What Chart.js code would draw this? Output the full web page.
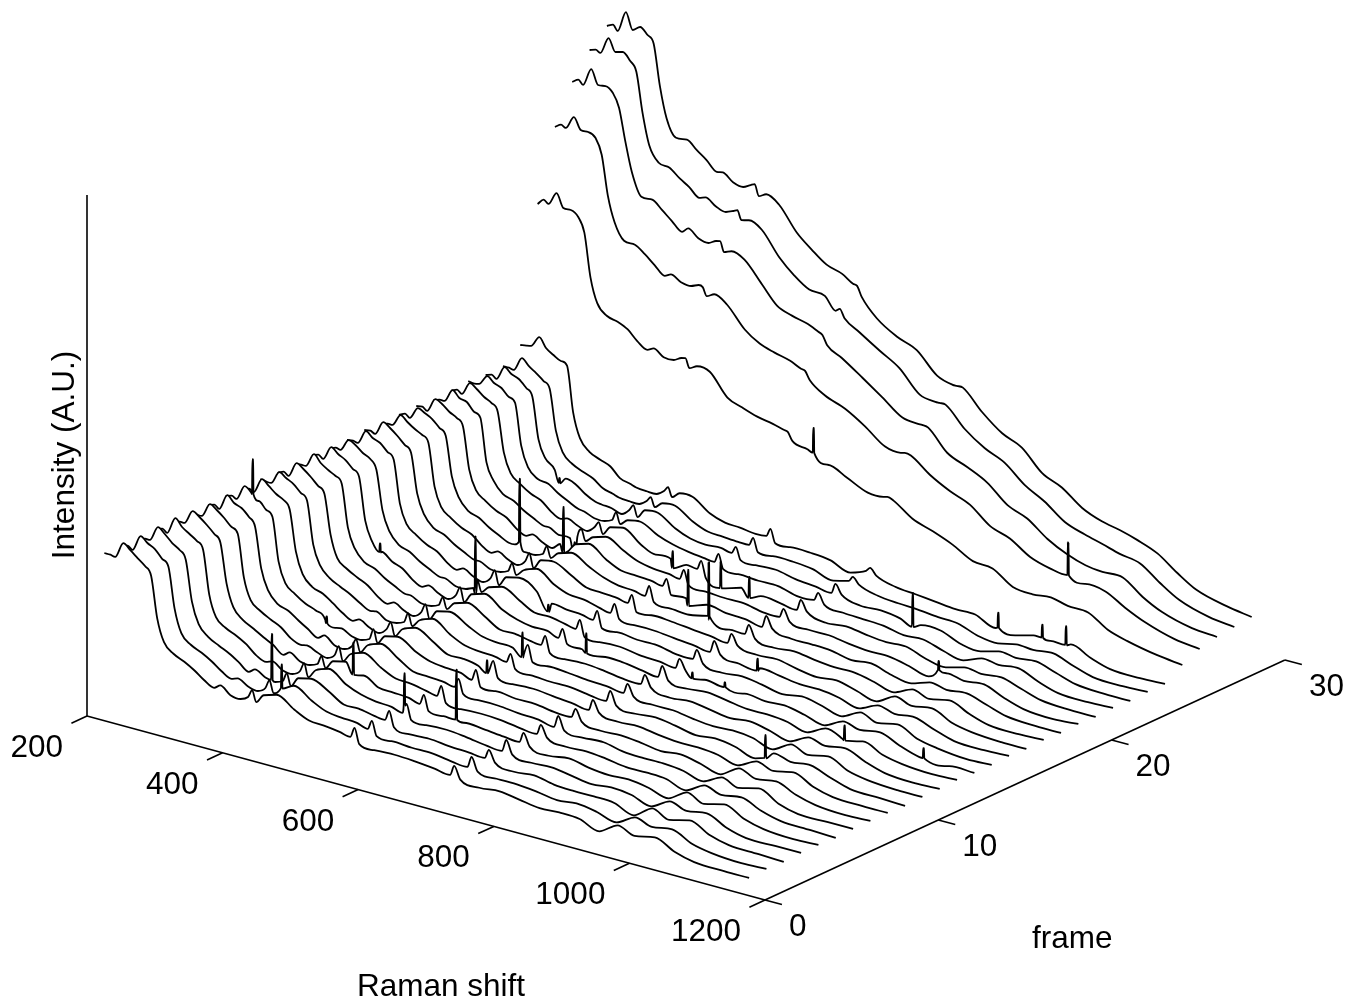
<!DOCTYPE html>
<html>
<head>
<meta charset="utf-8">
<title>Raman waterfall</title>
<style>
  html, body { margin: 0; background: #fff; }
  canvas { display: block; }
</style>
<script src="https://cdn.jsdelivr.net/npm/chart.js@4"></script>
</head>
<body>
<canvas id="myChart" width="1366" height="1007"></canvas>
<script>
const ramanShift = [200,209,216,228,238,249,260,269,278,288,302,318,333,347,362,371,386,401,412,418,424,435,454,480,502,524,547,563,569,576,598,628,657,687,710,716,725,753,783,812,842,871,901,930,957,982,1012,1041,1070,1114,1151];

// intensity, front to back
const frame1 = [155,155,154,170,165,159,153,145,104,82,73,68,62,55,50,54,47,46,50,58,47,56,60,50,43,42,40,38,48,33,31,32,31,29,27,37,25,22,24,21,18,19,18,11,22,16,20,11,6,5,5];
const frame2 = [154,156,153,169,164,160,152,146,106,83,74,69,63,56,51,53,48,46,51,60,48,56,61,51,44,42,41,38,47,33,32,31,31,28,27,38,25,23,23,21,18,20,17,12,22,17,20,11,7,5,6];
const frame3 = [153,155,155,170,165,158,153,145,105,84,74,68,63,57,50,54,49,47,50,59,47,57,60,52,43,43,40,39,49,34,31,32,30,29,28,37,26,22,24,20,19,19,18,11,23,16,21,12,7,6,5];
const frame4 = [155,157,154,171,164,159,154,147,104,83,75,70,64,56,52,54,48,47,52,61,48,57,62,51,45,42,41,38,48,33,32,33,31,28,27,39,26,23,24,21,18,20,18,12,22,17,20,11,6,6,6];
const frame5 = [154,156,156,170,166,160,153,146,107,85,75,69,63,58,51,55,49,48,51,60,49,58,61,52,44,43,42,39,49,34,33,32,31,29,28,38,26,22,25,21,19,20,17,12,23,16,21,12,7,5,6];
const frame6 = [156,155,155,169,165,159,152,147,105,84,76,70,65,57,53,54,50,47,52,62,48,57,62,52,45,44,41,39,50,34,32,33,32,29,28,38,27,23,24,22,19,19,18,12,22,17,20,12,7,6,5];
const frame7 = [155,157,154,170,164,161,154,146,106,86,75,71,64,58,52,56,49,48,53,61,49,58,63,53,44,43,42,40,49,35,33,33,31,30,27,39,26,24,25,21,20,20,18,13,22,16,21,11,6,6,6];
const frame8 = [156,158,156,171,166,160,153,148,105,85,77,70,66,59,54,55,50,49,52,63,50,59,62,52,46,44,43,39,50,34,34,32,32,29,29,38,27,23,24,22,19,21,17,12,23,17,20,12,7,5,6];
const frame9 = [154,157,155,170,165,159,155,147,107,86,76,72,65,58,53,56,51,48,54,62,49,58,63,54,45,45,42,40,51,35,33,34,32,30,28,39,28,24,25,22,20,20,18,13,22,17,21,12,7,6,6];
const frame10 = [157,156,156,169,165,161,154,148,106,87,77,71,66,60,55,56,50,50,53,63,51,59,64,53,46,44,43,41,50,36,34,33,33,30,29,40,27,24,26,23,19,21,18,12,22,18,20,13,7,6,5];
const frame11 = [155,158,155,170,166,160,153,147,108,86,78,72,67,59,54,57,52,49,55,64,50,60,63,54,47,45,44,40,51,35,35,34,32,31,29,39,28,25,25,22,20,21,19,13,23,17,21,12,8,6,6];
const frame12 = [156,157,157,171,164,159,155,149,107,88,77,73,66,61,56,56,51,51,54,63,52,60,64,55,46,46,43,42,52,36,34,35,33,30,30,40,29,24,26,23,20,22,18,13,22,18,21,13,7,5,6];
const frame13 = [157,159,156,170,165,161,154,148,106,87,79,72,68,60,55,58,53,50,56,65,51,61,65,54,48,45,45,41,51,37,36,34,34,31,29,41,28,25,27,24,21,21,19,14,23,17,20,12,8,6,7];
const frame14 = [155,158,157,169,166,160,156,147,108,89,78,74,67,62,57,57,52,52,55,64,53,60,64,55,47,47,44,42,52,36,35,36,33,32,30,40,30,26,26,23,21,22,18,13,22,18,21,13,7,6,6];
const frame15 = [156,157,156,170,165,162,155,149,107,88,80,73,69,61,56,59,54,51,57,66,52,62,65,56,48,46,45,43,53,37,37,35,35,31,31,41,29,25,27,24,20,23,19,14,23,17,21,12,8,5,6];
const frame16 = [158,159,157,171,167,161,154,148,109,90,79,75,68,63,58,58,53,53,56,65,54,61,66,55,49,48,44,42,52,38,36,36,34,32,30,42,30,26,27,25,22,22,19,14,22,18,20,13,7,6,7];
const frame17 = [156,158,158,170,165,160,156,150,108,89,81,74,70,62,57,60,55,52,58,67,53,63,65,56,48,47,46,44,53,37,38,37,35,33,31,41,31,27,28,24,21,23,18,13,23,18,21,12,8,6,6];
const frame18 = [157,160,157,169,166,162,155,149,110,91,80,76,69,64,59,59,54,54,57,66,55,62,66,57,50,46,45,43,54,39,37,36,36,32,32,42,30,26,28,25,23,23,19,14,22,17,21,13,7,6,7];
const frame19 = [158,159,156,170,167,161,157,150,109,90,82,75,71,63,58,61,56,53,59,68,54,63,67,56,49,48,47,45,53,38,39,38,35,34,31,43,32,27,27,26,22,24,18,15,21,18,20,14,8,6,6];
const frame20 = [156,158,158,171,165,163,155,151,108,92,81,77,70,65,60,60,55,55,58,67,56,62,66,57,50,47,46,44,54,40,38,37,37,33,33,42,31,28,28,25,23,23,19,14,22,19,21,13,7,5,7];
const frame21 = [157,160,157,170,166,160,156,149,110,91,83,76,72,64,59,61,57,54,60,66,55,64,67,55,49,49,47,46,55,39,40,39,36,34,32,43,33,27,29,26,24,25,18,15,20,18,20,14,8,6,6];
const frame22 = [159,158,159,169,164,161,154,150,109,89,80,78,71,66,61,60,56,56,59,68,57,63,65,56,51,48,46,45,54,40,39,38,38,33,34,42,32,29,28,27,23,24,18,14,21,19,21,13,7,6,7];
const frame23 = [157,159,156,170,165,162,155,148,107,90,81,75,72,65,60,59,58,55,61,67,56,65,66,55,49,47,48,46,53,41,40,41,37,35,33,43,34,28,29,26,25,25,17,15,20,18,20,14,8,6,6];
const frame24 = [158,158,157,171,165,160,154,148,108,88,79,74,70,63,60,58,57,57,62,67,58,64,65,54,48,47,46,46,54,41,41,41,39,33,37,42,36,30,28,27,25,24,17,15,19,18,20,13,7,6,7];
const frame25 = [171,172,173,184,175,170,166,163,118,94,83,78,74,65,62,60,59,59,64,69,60,66,66,54,49,48,46,47,55,42,42,42,40,33,39,43,37,31,29,27,25,25,17,15,20,19,21,13,7,6,7];
const frame26 = [304,310,307,320,307,307,302,288,245,221,211,208,203,194,188,191,185,185,189,190,181,185,183,162,156,151,148,145,144,136,132,122,114,105,105,106,104,91,84,76,65,63,50,48,50,46,45,33,27,21,18];
const frame27 = [373,377,375,388,377,377,373,358,319,294,278,277,270,262,254,257,252,251,254,253,245,249,242,222,212,207,203,198,197,189,178,170,158,143,141,142,141,127,116,108,92,85,72,66,66,60,58,47,38,29,26];
const frame28 = [410,414,410,428,414,415,410,397,366,336,314,314,306,298,290,295,288,286,290,291,281,284,279,259,242,236,232,227,225,216,207,193,179,164,162,162,161,141,132,122,105,97,82,72,66,64,64,50,40,32,30];
const frame29 = [434,436,434,451,439,441,434,425,386,355,340,338,330,324,316,318,312,309,312,314,305,307,301,278,264,254,252,240,243,235,225,212,200,179,176,176,176,157,143,134,117,106,91,84,79,74,70,56,44,35,32];
const frame30 = [450,453,448,469,453,458,452,445,405,374,357,358,350,343,334,335,328,326,330,332,321,325,318,295,282,271,266,259,258,248,231,218,210,190,185,185,185,166,150,141,121,112,97,89,85,80,72,58,46,38,34];

// narrow cosmic ray spikes sitting on the traces
const spikeFrames = [8,13,14,18,19,20,23,3,2,8,5,4,5,11,9,15,21,19,18,21,21,13,16,14,14,10,13,23,27,20,14,25,25,25,26];
const spikeShifts = [240,300,415,378,417,408,309,396,436,349,465,566,617,561,560,497,527,601,657,598,640,604,780,735,783,945,985,830,957,945,1076,905,970,1005,607];
const spikeBases = [165,78,50,63,51,39,69,48,55,56,50,46,33,37,37,39,40,32,40,33,31,33,24,24,24,15,16,21,64,23,7,18,20,19,130];
const spikeTops = [200,87,107,126,97,52,74,94,79,63,82,78,83,62,50,46,57,68,94,60,52,53,36,30,29,38,31,55,97,32,17,33,33,38,155];

const ramanTicks = [200,400,600,800,1000,1200];
const frameTicks = [0,10,20,30];
const intensityTop = 521;

const frames = [frame1,frame2,frame3,frame4,frame5,frame6,frame7,frame8,frame9,frame10,frame11,frame12,frame13,frame14,frame15,frame16,frame17,frame18,frame19,frame20,frame21,frame22,frame23,frame24,frame25,frame26,frame27,frame28,frame29,frame30];

const ctx = document.getElementById("myChart").getContext("2d");
const textFont = '31.5px "Liberation Sans", Arial, sans-serif';
const inkColor = "#000";

// oblique view: raman runs down-right, frame runs up-right, intensity straight up
function project(shift, frame, intensity) {
    return {
        x: 87 + 0.678 * (shift - 200) + 17.33 * frame,
        y: 1007 - (716 + 0.184 * (shift - 200) - 8 * frame - intensity)
    };
}

function tracePoints(values, frame) {
    const rows = ramanShift.map((shift, i) => [shift, values[i]]);
    spikeFrames.forEach((f, i) => {
        if (f !== frame) return;
        rows.push([spikeShifts[i] - 1.1, spikeBases[i]]);
        rows.push([spikeShifts[i] - 0.5, spikeTops[i]]);
        rows.push([spikeShifts[i] + 0.5, spikeTops[i]]);
        rows.push([spikeShifts[i] + 1.1, spikeBases[i]]);
    });
    rows.sort((a, b) => a[0] - b[0]);
    return rows.map(r => project(r[0], frame, r[1]));
}

function axisLine(points) {
    return {
        data: points,
        borderColor: inkColor,
        borderWidth: 1.6,
        pointRadius: 0,
        fill: false,
        order: 0
    };
}

const traceSets = frames.map((values, i) => ({
    data: tracePoints(values, i + 1),
    borderColor: inkColor,
    borderWidth: 1.8,
    borderJoinStyle: "round",
    pointRadius: 0,
    cubicInterpolationMode: "monotone",
    fill: { target: "start" },
    backgroundColor: "#fff",
    order: i + 1
}));

const axisSets = [
    axisLine([project(200, 0, 0), project(1200, 0, 0)]),
    axisLine([project(1200, 0, 0), project(1200, 30, 0)]),
    axisLine([project(200, 0, 0), project(200, 0, intensityTop)]),
    ...ramanTicks.map(s => axisLine([project(s, 0, 0), project(s, -0.9, 0)])),
    ...frameTicks.map(f => axisLine([project(1200, f, 0), project(1225, f, 0)]))
];

// tick labels and axis titles
const labelPlugin = {
    id: "labels",
    afterDatasetsDraw(chart) {
        const c = chart.ctx;
        const sx = chart.scales.x;
        const sy = chart.scales.y;
        c.save();
        c.font = textFont;
        c.fillStyle = inkColor;
        c.textBaseline = "alphabetic";

        c.textAlign = "right";
        ramanTicks.forEach(s => {
            const p = project(s, 0, 0);
            c.fillText(String(s), sx.getPixelForValue(p.x) - 24, sy.getPixelForValue(p.y) + 41);
        });

        c.textAlign = "left";
        frameTicks.forEach(f => {
            const p = project(1200, f, 0);
            c.fillText(String(f), sx.getPixelForValue(p.x) + 24, sy.getPixelForValue(p.y) + 36);
        });

        c.fillText("frame", 1032, 948);
        c.fillText("Raman shift", 357, 996);

        c.translate(74, 455);
        c.rotate(-Math.PI / 2);
        c.textAlign = "center";
        c.fillText("Intensity (A.U.)", 0, 0);
        c.restore();
    }
};

const myChart = new Chart(ctx, {
    type: "line",
    data: { datasets: [...axisSets, ...traceSets] },
    options: {
        responsive: false,
        animation: false,
        events: [],
        layout: { padding: 0 },
        plugins: { legend: { display: false }, tooltip: { enabled: false } },
        scales: {
            x: { type: "linear", min: 0, max: 1366, display: false },
            y: { type: "linear", min: 0, max: 1007, display: false }
        }
    },
    plugins: [labelPlugin]
});
</script>
</body>
</html>
